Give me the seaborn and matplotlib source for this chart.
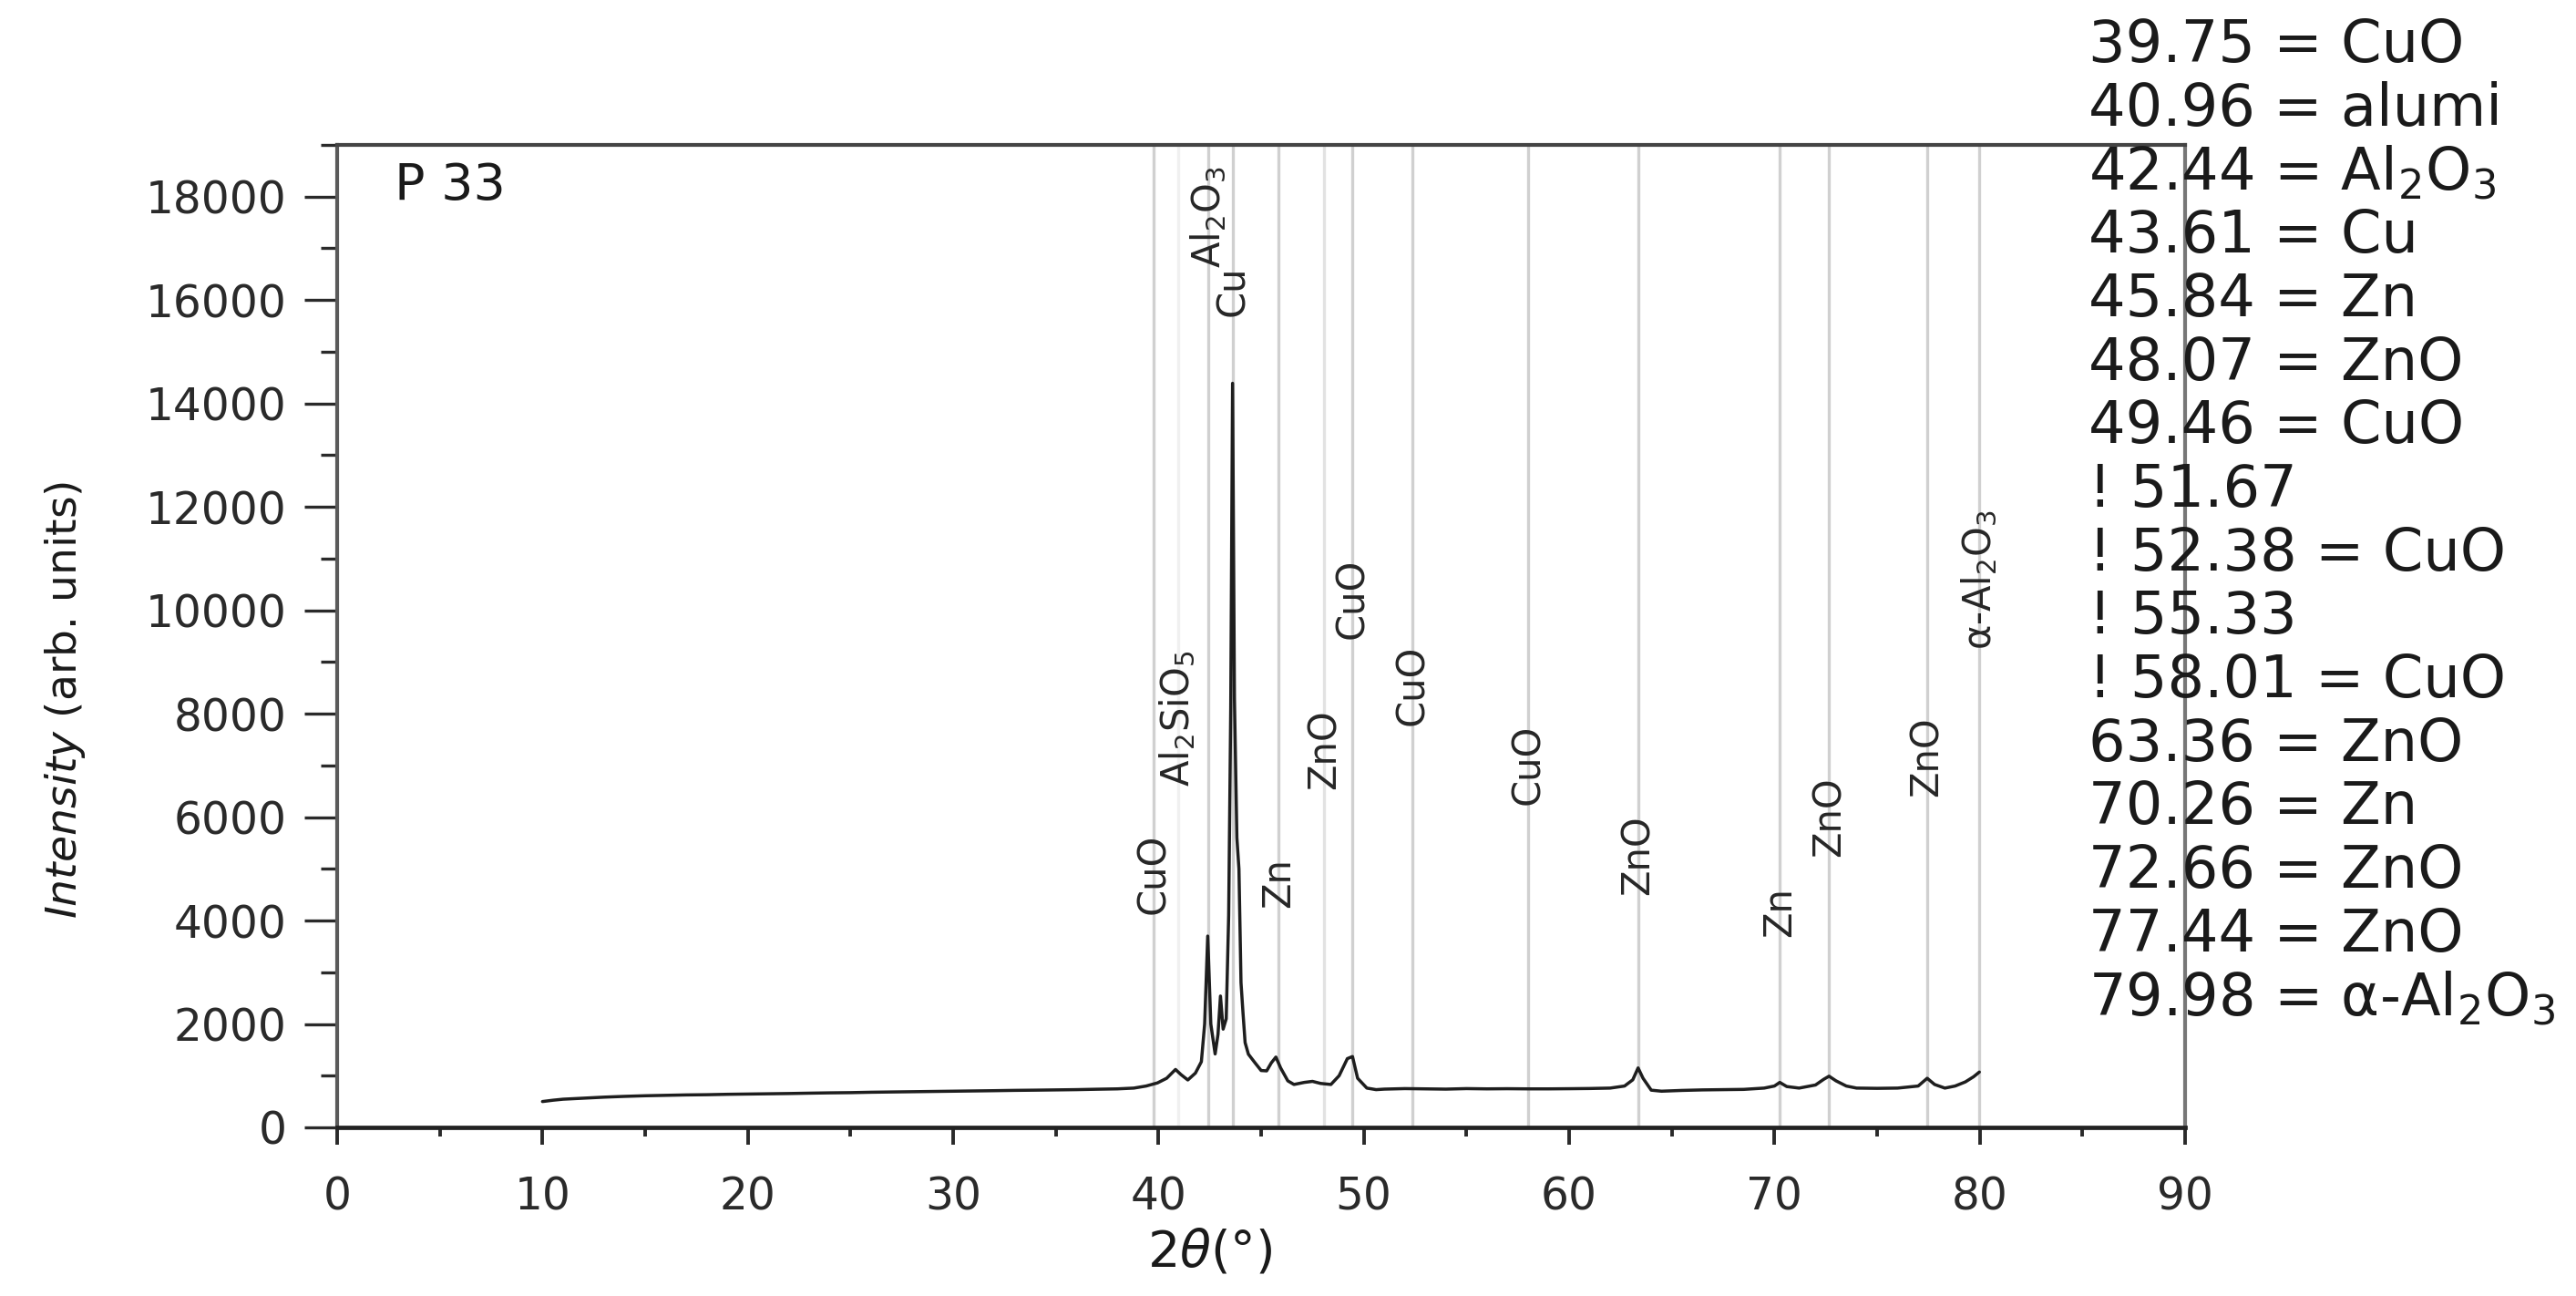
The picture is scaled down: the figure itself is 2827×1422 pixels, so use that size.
import matplotlib
matplotlib.use("Agg")
import matplotlib.pyplot as plt
from matplotlib.ticker import MultipleLocator
import seaborn as sns
import pandas as pd

# ---------------- data ----------------
two_theta = [10.0, 10.5, 11.0, 11.5, 12.0, 13.0, 14.0, 15.0, 16.0, 17.0, 18.0, 19.0,
             20.0, 21.0, 22.0, 23.0, 24.0, 25.0, 26.0, 27.0, 28.0, 29.0, 30.0, 31.0,
             32.0, 33.0, 34.0, 35.0, 36.0, 37.0, 38.0, 38.8, 39.4, 39.95, 40.4, 40.83,
             41.1, 41.43, 41.8, 42.09, 42.25, 42.4, 42.55, 42.76, 42.9, 43.02, 43.15,
             43.3, 43.42, 43.52, 43.61, 43.7, 43.82, 43.92, 44.02, 44.12, 44.22, 44.38,
             44.7, 45.0, 45.27, 45.5, 45.72, 45.95, 46.3, 46.6, 47.1, 47.5, 47.9, 48.4,
             48.8, 49.2, 49.45, 49.7, 50.15, 50.6, 51.0, 52.0, 53.0, 54.0, 55.0, 56.0,
             57.0, 58.0, 59.0, 60.0, 61.0, 62.0, 62.7, 63.1, 63.36, 63.6, 64.0, 64.5,
             65.5, 66.5, 67.5, 68.5, 69.5, 70.0, 70.26, 70.6, 71.2, 72.0, 72.4, 72.66,
             73.0, 73.5, 74.0, 75.0, 76.0, 77.0, 77.44, 77.8, 78.3, 78.8, 79.3, 79.7, 79.98]
intensity = [500, 525, 545, 555, 565, 585, 600, 612, 620, 628, 632, 640,
             645, 650, 655, 662, 668, 672, 680, 685, 690, 695, 700, 705,
             710, 716, 720, 725, 730, 738, 745, 760, 800, 860, 950, 1120,
             1020, 917, 1050, 1270, 2000, 3700, 2000, 1420, 1800, 2540, 1900,
             2100, 4100, 8100, 14390, 8300, 5600, 5000, 2800, 2200, 1640, 1416,
             1250, 1100, 1093, 1250, 1360, 1150, 900, 830, 870, 890, 850, 830,
             1000, 1330, 1370, 950, 760, 730, 740, 750, 745, 740, 750, 745,
             748, 745, 745, 748, 752, 760, 800, 920, 1150, 950, 720, 700,
             715, 725, 730, 735, 760, 800, 870, 790, 760, 820, 930, 990,
             900, 800, 760, 755, 760, 800, 950, 830, 760, 800, 880, 980, 1070]

ref_positions = [39.75, 40.96, 42.44, 43.61, 45.84, 48.07, 49.46, 52.38, 58.01,
                 63.36, 70.26, 72.66, 77.44, 79.98]
ref_line_shade = ["#d0d0d0", "#f0f0f0", "#d0d0d0", "#d0d0d0", "#d0d0d0", "#e2e2e2",
                  "#d0d0d0", "#d0d0d0", "#d0d0d0", "#d0d0d0", "#d0d0d0", "#d0d0d0",
                  "#d0d0d0", "#d0d0d0"]
ref_labels = ["CuO", "Al$_2$SiO$_5$", "Al$_2$O$_3$", "Cu", "Zn", "ZnO", "CuO", "CuO",
              "CuO", "ZnO", "Zn", "ZnO", "ZnO", "α-Al$_2$O$_3$"]
label_heights = [4910, 7900, 17600, 16170, 4730, 7320, 10230, 8560, 7020,
                 5260, 4170, 6000, 7180, 10600]

legend_lines = ["39.75 = CuO", "40.96 = alumi", "42.44 = Al$_2$O$_3$", "43.61 = Cu",
                "45.84 = Zn", "48.07 = ZnO", "49.46 = CuO", "! 51.67", "! 52.38 = CuO",
                "! 55.33", "! 58.01 = CuO", "63.36 = ZnO", "70.26 = Zn", "72.66 = ZnO",
                "77.44 = ZnO", "79.98 = α-Al$_2$O$_3$"]

sample_name = "P 33"
x_ticks = [0, 10, 20, 30, 40, 50, 60, 70, 80, 90]
y_ticks = [0, 2000, 4000, 6000, 8000, 10000, 12000, 14000, 16000, 18000]

df = pd.DataFrame({"two_theta": two_theta, "intensity": intensity})

# ---------------- style ----------------
sns.set_theme(style="ticks")
plt.rcParams["font.family"] = ["DejaVu Sans"]
plt.rcParams["mathtext.fontset"] = "custom"
plt.rcParams["mathtext.rm"] = "DejaVu Sans"
plt.rcParams["mathtext.it"] = "DejaVu Sans:italic"
plt.rcParams["mathtext.bf"] = "DejaVu Sans:bold"

W, H = 2827, 1422
fig = plt.figure(figsize=(W / 100, H / 100), dpi=100)
ax_l, ax_r, ax_t, ax_b = 370, 2398, 159, 1237
ax = fig.add_axes([ax_l / W, 1 - ax_b / H, (ax_r - ax_l) / W, (ax_b - ax_t) / H])

# reference lines
for p, shade in zip(ref_positions, ref_line_shade):
    ax.axvline(p, color=shade, lw=2.4, zorder=1)

sns.lineplot(data=df, x="two_theta", y="intensity", ax=ax, color="#1e1e1e",
             linewidth=2.5, zorder=3, sort=True, estimator=None)

# phase labels
for p, lab, h in zip(ref_positions, ref_labels, label_heights):
    ax.text(p, h, lab, rotation=90, ha="center", va="center", fontsize=30,
            color="#262626", zorder=4)

ax.text(0.031, 0.958, sample_name, transform=ax.transAxes, ha="left", va="center",
        fontsize=40, color="#1a1a1a")

ax.set_xlim(0, 90)
ax.set_ylim(0, 19000)
ax.set_xticks(x_ticks)
ax.set_yticks(y_ticks)
ax.set_xticklabels([str(v) for v in x_ticks])
ax.set_yticklabels([str(v) for v in y_ticks])
ax.xaxis.set_minor_locator(MultipleLocator(5))
ax.yaxis.set_minor_locator(MultipleLocator(1000))

ax.tick_params(axis="y", which="major", direction="out", length=26, width=2.4,
               pad=14, labelsize=35, colors="#2a2a2a", left=True)
ax.tick_params(axis="y", which="minor", direction="out", length=13, width=2.4,
               colors="#2a2a2a", left=True)
ax.tick_params(axis="x", which="major", direction="out", length=14, width=2.8,
               pad=24, labelsize=35, colors="#2a2a2a", bottom=True)
ax.tick_params(axis="x", which="minor", direction="out", length=7, width=2.8,
               colors="#2a2a2a", bottom=True)

for side, col, lw in [("bottom", "#222222", 3.4), ("left", "#5a5a5a", 3.0),
                      ("top", "#444444", 3.0), ("right", "#777777", 3.0)]:
    ax.spines[side].set_visible(True)
    ax.spines[side].set_color(col)
    ax.spines[side].set_linewidth(lw)

ax.set_xlabel(r"2$\mathit{\theta}$(°)", fontsize=40, color="#1a1a1a")
ax.xaxis.label.set_va("center")
ax.xaxis.set_label_coords(0.4724, -0.128)
ax.set_ylabel(r"$\mathit{Intensity}$ (arb. units)", fontsize=34, color="#1a1a1a")
ax.yaxis.label.set_va("center")
ax.yaxis.set_label_coords(-0.147, 0.435)

# right column of peak assignments
for i, line in enumerate(legend_lines):
    y_px = 50 + i * 69.7
    fig.text(2292 / W, 1 - y_px / H, line, ha="left", va="center", fontsize=46,
             color="#1a1a1a")

fig.savefig("out.png", dpi=100)
